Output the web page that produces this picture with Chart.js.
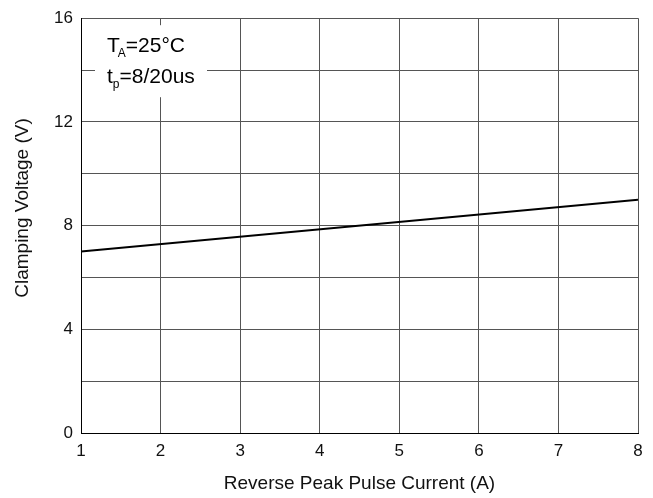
<!DOCTYPE html>
<html><head><meta charset="utf-8">
<script src="https://cdn.jsdelivr.net/npm/chart.js@4/dist/chart.umd.min.js"></script>
<style>html,body{margin:0;padding:0;background:#fff}#wrap{width:653px;height:498px}</style>
</head><body><div id="wrap"><canvas id="c"></canvas></div>
<script>
const currentA = [1, 8];
const clampV = [7, 9];
const xTicks = [1, 2, 3, 4, 5, 6, 7, 8];
const yTickLabels = [0, 4, 8, 12, 16];
const xTitle = 'Reverse Peak Pulse Current (A)';
const yTitle = 'Clamping Voltage (V)';
const FONT = "'Liberation Sans', Arial, sans-serif";

const notePlugin = {
  id: 'note',
  afterDraw(chart) {
    const ctx = chart.ctx, a = chart.chartArea;
    ctx.save();
    // axis titles
    ctx.fillStyle = '#111';
    ctx.font = "19px " + FONT;
    ctx.textAlign = 'center';
    ctx.textBaseline = 'middle';
    ctx.fillText(xTitle, (a.left + a.right) / 2, 484);
    ctx.save();
    ctx.translate(23, 208);
    ctx.rotate(-Math.PI / 2);
    ctx.fillText(yTitle, 0, 0);
    ctx.restore();
    // annotation box
    ctx.textAlign = 'left';
    const x0 = a.left + 14, y0 = a.top + 7;
    ctx.fillStyle = '#fff';
    ctx.fillRect(x0, y0, 112, 72);
    ctx.fillStyle = '#000';
    ctx.textBaseline = 'alphabetic';
    ctx.font = "21px " + FONT;
    let x = a.left + 26, y = a.top + 34;
    ctx.fillText('T', x, y);
    let w = ctx.measureText('T').width;
    ctx.font = "12px " + FONT;
    ctx.fillText('A', x + w - 2, y + 5);
    let w2 = ctx.measureText('A').width;
    ctx.font = "21px " + FONT;
    ctx.fillText('=25°C', x + w + w2 - 2, y);
    y = a.top + 65;
    ctx.fillText('t', x, y);
    w = ctx.measureText('t').width;
    ctx.font = "12px " + FONT;
    ctx.fillText('p', x + w, y + 5);
    w2 = ctx.measureText('p').width;
    ctx.font = "21px " + FONT;
    ctx.fillText('=8/20us', x + w + w2, y);
    ctx.restore();
  }
};

new Chart(document.getElementById('c'), {
  type: 'line',
  data: {
    datasets: [{
      data: currentA.map((x, i) => ({ x: x, y: clampV[i] })),
      borderColor: '#000',
      borderWidth: 2,
      pointRadius: 0,
      tension: 0
    }]
  },
  options: {
    responsive: true,
    maintainAspectRatio: false,
    animation: false,
    devicePixelRatio: 1,
    layout: { padding: { left: 0, right: 15, top: 18, bottom: 0 } },
    plugins: { legend: { display: false }, tooltip: { enabled: false } },
    scales: {
      x: {
        type: 'linear', min: 1, max: 8,
        afterBuildTicks(s) { s.ticks = xTicks.map(v => ({ value: v })); },
        afterFit(s) { s.height = 65; },
        grid: { color: '#555', lineWidth: 1, drawTicks: false },
        border: { color: '#000', width: 1 },
        ticks: { color: '#111', font: { family: FONT, size: 17 }, padding: 8 }
      },
      y: {
        type: 'linear', min: 0, max: 16,
        ticks: {
          stepSize: 2, color: '#111', font: { family: FONT, size: 17 }, padding: 8,
          callback: v => yTickLabels.includes(v) ? String(v) : ''
        },
        afterFit(s) { s.width = 81; },
        grid: { color: '#555', lineWidth: 1, drawTicks: false },
        border: { color: '#000', width: 1 }
      }
    }
  },
  plugins: [notePlugin]
});
</script></body></html>
